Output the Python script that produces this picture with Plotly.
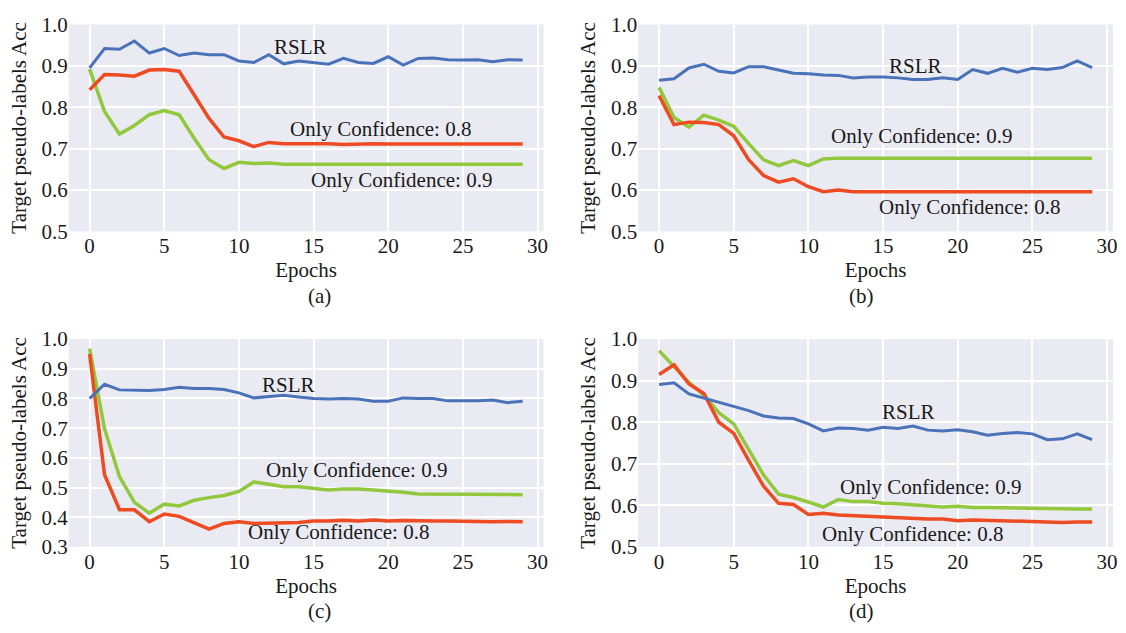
import plotly.graph_objects as go

epochs = list(range(30))

# Panel (a)
a_rslr = [0.895, 0.942, 0.940, 0.960, 0.931, 0.942, 0.925, 0.931, 0.927, 0.927,
          0.912, 0.908, 0.927, 0.905, 0.912, 0.908, 0.904, 0.918, 0.908, 0.906,
          0.922, 0.902, 0.918, 0.919, 0.915, 0.914, 0.915, 0.910, 0.915, 0.914]
a_conf08 = [0.842, 0.879, 0.878, 0.875, 0.890, 0.891, 0.887, 0.828, 0.773, 0.728,
            0.719, 0.705, 0.715, 0.712, 0.712, 0.713, 0.712, 0.710, 0.712, 0.712,
            0.711, 0.711, 0.711, 0.711, 0.711, 0.711, 0.711, 0.711, 0.711, 0.711]
a_conf09 = [0.892, 0.790, 0.735, 0.756, 0.782, 0.792, 0.782, 0.725, 0.673, 0.652,
            0.667, 0.664, 0.665, 0.662, 0.662, 0.662, 0.662, 0.662, 0.662, 0.662,
            0.662, 0.662, 0.662, 0.662, 0.662, 0.662, 0.662, 0.662, 0.662, 0.662]

# Panel (b)
b_rslr = [0.865, 0.869, 0.895, 0.904, 0.887, 0.883, 0.898, 0.898, 0.890, 0.882,
          0.881, 0.878, 0.877, 0.871, 0.873, 0.873, 0.871, 0.867, 0.867, 0.871,
          0.867, 0.891, 0.882, 0.894, 0.885, 0.894, 0.891, 0.896, 0.912, 0.896]
b_conf08 = [0.828, 0.758, 0.764, 0.763, 0.758, 0.731, 0.673, 0.635, 0.619, 0.627,
            0.608, 0.596, 0.600, 0.596, 0.596, 0.596, 0.596, 0.596, 0.596, 0.596,
            0.596, 0.596, 0.596, 0.596, 0.596, 0.596, 0.596, 0.596, 0.596, 0.596]
b_conf09 = [0.848, 0.775, 0.752, 0.781, 0.769, 0.754, 0.712, 0.673, 0.659, 0.671,
            0.659, 0.675, 0.677, 0.677, 0.677, 0.677, 0.677, 0.677, 0.677, 0.677,
            0.677, 0.677, 0.677, 0.677, 0.677, 0.677, 0.677, 0.677, 0.677, 0.677]

# Panel (c)
c_rslr = [0.800, 0.848, 0.829, 0.829, 0.827, 0.830, 0.838, 0.834, 0.834, 0.830,
          0.819, 0.802, 0.807, 0.811, 0.805, 0.800, 0.798, 0.800, 0.798, 0.791,
          0.791, 0.802, 0.800, 0.800, 0.792, 0.792, 0.792, 0.795, 0.786, 0.791]
c_conf08 = [0.950, 0.543, 0.425, 0.425, 0.385, 0.411, 0.403, 0.382, 0.360, 0.379,
            0.385, 0.379, 0.380, 0.381, 0.382, 0.387, 0.387, 0.390, 0.387, 0.391,
            0.387, 0.389, 0.387, 0.387, 0.387, 0.386, 0.386, 0.385, 0.386, 0.385]
c_conf09 = [0.968, 0.698, 0.537, 0.450, 0.414, 0.444, 0.438, 0.457, 0.466, 0.473,
            0.487, 0.519, 0.511, 0.503, 0.503, 0.498, 0.492, 0.495, 0.495, 0.492,
            0.489, 0.484, 0.478, 0.478, 0.478, 0.478, 0.477, 0.477, 0.476, 0.476]

# Panel (d)
d_rslr = [0.891, 0.895, 0.868, 0.858, 0.848, 0.838, 0.828, 0.815, 0.810, 0.809,
          0.796, 0.779, 0.786, 0.785, 0.781, 0.788, 0.785, 0.791, 0.781, 0.779,
          0.782, 0.777, 0.769, 0.773, 0.775, 0.772, 0.758, 0.760, 0.772, 0.758]
d_conf08 = [0.915, 0.938, 0.892, 0.869, 0.800, 0.773, 0.708, 0.646, 0.605, 0.602,
            0.578, 0.581, 0.577, 0.575, 0.573, 0.572, 0.571, 0.569, 0.567, 0.567,
            0.563, 0.565, 0.564, 0.562, 0.562, 0.562, 0.560, 0.559, 0.560, 0.560]
d_conf09 = [0.972, 0.935, 0.896, 0.865, 0.823, 0.796, 0.735, 0.673, 0.627, 0.619,
            0.608, 0.596, 0.614, 0.609, 0.609, 0.605, 0.604, 0.602, 0.600, 0.596,
            0.598, 0.595, 0.595, 0.594, 0.594, 0.592, 0.592, 0.592, 0.591, 0.591]

panel_labels = ["(a)", "(b)", "(c)", "(d)"]
y_ranges = [[0.5, 1.0], [0.5, 1.0], [0.3, 1.0], [0.5, 1.0]]
y_ticks = [[0.5, 0.6, 0.7, 0.8, 0.9, 1.0], [0.5, 0.6, 0.7, 0.8, 0.9, 1.0],
           [0.3, 0.4, 0.5, 0.6, 0.7, 0.8, 0.9, 1.0], [0.5, 0.6, 0.7, 0.8, 0.9, 1.0]]
x_ticks = [0, 5, 10, 15, 20, 25, 30]

# label positions (data coords): RSLR, conf 0.8, conf 0.9
label_pos = [
    [(14.1, 0.946), (19.5, 0.748), (20.9, 0.623)],
    [(17.2, 0.900), (20.8, 0.558), (17.6, 0.731)],
    [(13.3, 0.844), (16.7, 0.349), (17.9, 0.558)],
    [(16.7, 0.825), (17.0, 0.531), (18.2, 0.645)],
]

data = [(a_rslr, a_conf08, a_conf09), (b_rslr, b_conf08, b_conf09),
        (c_rslr, c_conf08, c_conf09), (d_rslr, d_conf08, d_conf09)]

W, H = 1126, 633
BLUE = "#4A72B8"
RED = "#EE4B22"
GREEN = "#92C83E"
FONT = "Liberation Serif, Times New Roman, serif"
TXT = "#1a1a1a"
FS = 21

# pixel boxes: (left, right, top, bottom)
boxes = [(69, 546, 13, 228), (641, 1118, 13, 228),
         (69, 546, 340, 556), (641, 1118, 340, 556)]

fig = go.Figure()
layout = dict(width=W, height=H, margin=dict(l=0, r=0, t=0, b=0),
              paper_bgcolor="white", plot_bgcolor="#EAEAF2", showlegend=False,
              font=dict(family=FONT, size=FS, color=TXT))
annotations = []
for i in range(4):
    l, r, t, b = boxes[i]
    xa = "x" if i == 0 else f"x{i+1}"
    ya = "y" if i == 0 else f"y{i+1}"
    rslr, c08, c09 = data[i]
    fig.add_trace(go.Scatter(x=epochs, y=c09, mode="lines", line=dict(color=GREEN, width=3.5),
                             xaxis=xa, yaxis=ya))
    fig.add_trace(go.Scatter(x=epochs, y=c08, mode="lines", line=dict(color=RED, width=3.5),
                             xaxis=xa, yaxis=ya))
    fig.add_trace(go.Scatter(x=epochs, y=rslr, mode="lines", line=dict(color=BLUE, width=3),
                             xaxis=xa, yaxis=ya))
    xkey = "xaxis" if i == 0 else f"xaxis{i+1}"
    ykey = "yaxis" if i == 0 else f"yaxis{i+1}"
    layout[xkey] = dict(domain=[l / W, r / W], range=[-1.4, 30.4], anchor=ya,
                        tickvals=x_ticks, ticks="", showgrid=True, gridcolor="white",
                        gridwidth=1.5, zeroline=False, showline=False,
                        tickfont=dict(family=FONT, size=FS, color=TXT),
                        title=dict(text="Epochs", font=dict(family=FONT, size=FS, color=TXT),
                                   standoff=3))
    layout[ykey] = dict(domain=[1 - b / H, 1 - t / H], range=y_ranges[i], anchor=xa,
                        tickvals=y_ticks[i], tickformat=".1f", ticks="", showgrid=True,
                        gridcolor="white", gridwidth=1.5, zeroline=False, showline=False,
                        tickfont=dict(family=FONT, size=FS, color=TXT),
                        title=dict(text="Target pseudo-labels Acc",
                                   font=dict(family=FONT, size=FS, color=TXT),
                                   standoff=9))
    texts = ["RSLR", "Only Confidence: 0.8", "Only Confidence: 0.9"]
    for (px, py), tx in zip(label_pos[i], texts):
        annotations.append(dict(x=px, y=py, xref=xa, yref=ya, text=tx, showarrow=False,
                                font=dict(family=FONT, size=FS, color=TXT)))
    annotations.append(dict(x=(l + r) / 2 / W, y=1 - (b + 67) / H, xref="paper",
                            yref="paper", text=panel_labels[i], showarrow=False,
                            yanchor="middle", font=dict(family=FONT, size=FS, color=TXT)))
layout["annotations"] = annotations
fig.update_layout(**layout)
fig.write_html("out.html", config={"displayModeBar": False},
               post_script="document.body.style.margin='0';document.body.style.overflow='hidden';")
